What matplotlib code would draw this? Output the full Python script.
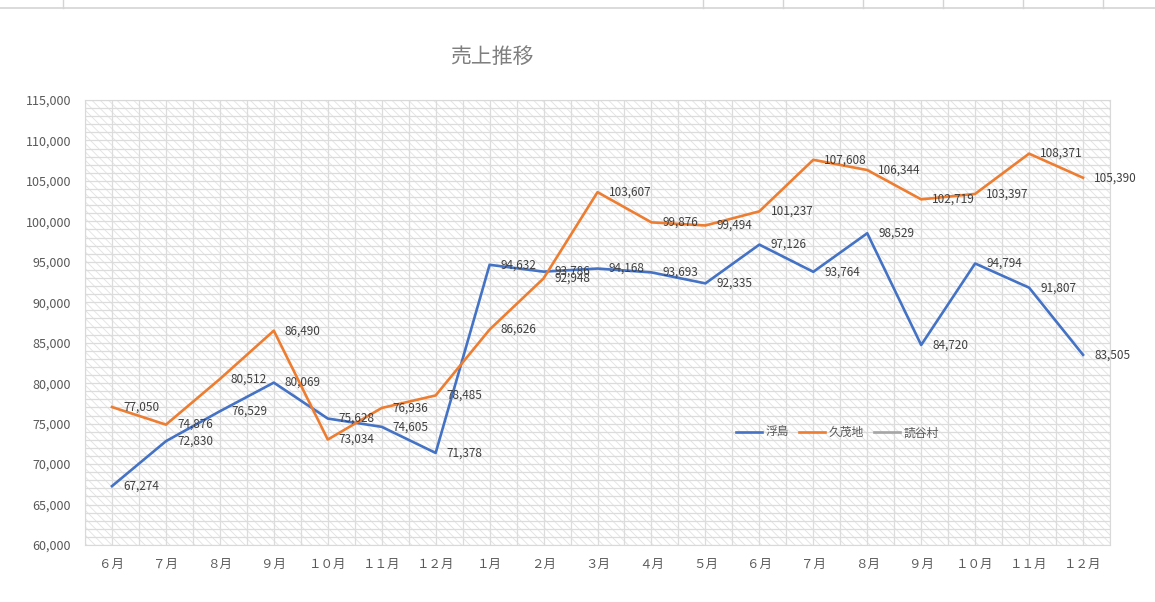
import matplotlib
matplotlib.use("Agg")
import matplotlib.pyplot as plt
from matplotlib.lines import Line2D
from matplotlib.patches import Rectangle
from matplotlib.ticker import FuncFormatter, MultipleLocator

plt.rcParams["font.family"] = ["Noto Sans CJK JP", "DejaVu Sans"]
plt.rcParams["hatch.linewidth"] = 0.6

# months Jun .. Dec of next year (full-width digits as in the sheet)
months = ["６月", "７月", "８月", "９月", "１０月", "１１月", "１２月",
          "１月", "２月", "３月", "４月", "５月", "６月", "７月", "８月",
          "９月", "１０月", "１１月", "１２月"]

ukishima = [67274, 72830, 76529, 80069, 75628, 74605, 71378, 94632, 93786, 94168,
            93693, 92335, 97126, 93764, 98529, 84720, 94794, 91807, 83505]
kumoji = [77050, 74876, 80512, 86490, 73034, 76936, 78485, 86626, 92948, 103607,
          99876, 99494, 101237, 107608, 106344, 102719, 103397, 108371, 105390]
series_names = ["浮島", "久茂地", "読谷村"]
series_colors = ["#4472C4", "#ED7D31", "#A5A5A5"]

fig = plt.figure(figsize=(11.55, 6.02), dpi=100)
ax = fig.add_axes([85 / 1155, 57 / 602, 1025 / 1155, 445 / 602])

# spreadsheet cell borders peeking in at the top
fig.add_artist(Line2D([0, 1], [1 - 7.5 / 602] * 2, color="#d4d4d4", lw=1.2))
for px in [63, 703, 783, 863, 943, 1023, 1103]:
    fig.add_artist(Line2D([px / 1155] * 2, [1 - 7.5 / 602, 1], color="#d4d4d4", lw=1))

# hatched plot-area fill
ax.patch.set_visible(False)
ax.add_patch(Rectangle((0, 0), 1, 1, transform=ax.transAxes, facecolor="white",
                       edgecolor="#e2e2e2", hatch="\\\\\\\\", lw=0, zorder=0))

x = list(range(len(months)))
for vals, name, col in [(ukishima, series_names[0], series_colors[0]),
                        (kumoji, series_names[1], series_colors[1])]:
    ax.plot(x, vals, color=col, lw=1.9, label=name, zorder=3)
    for xi, v in zip(x, vals):
        ax.annotate(f"{v:,}", (xi, v), xytext=(8, 0), textcoords="offset points",
                    ha="left", va="center", fontsize=8.5, color="#404040", zorder=4)
# third store has no data, legend only
ax.plot([], [], color=series_colors[2], lw=1.9, label=series_names[2])

ax.set_xlim(-0.5, len(months) - 0.5)
ax.set_ylim(60000, 115000)
ax.set_xticks(x)
ax.set_xticklabels(months)
ax.xaxis.set_minor_locator(MultipleLocator(0.5))
ax.yaxis.set_major_locator(MultipleLocator(5000))
ax.yaxis.set_minor_locator(MultipleLocator(1000))
ax.yaxis.set_major_formatter(FuncFormatter(lambda v, p: f"{int(v):,}"))
ax.set_axisbelow(True)
ax.grid(which="both", color="#dcdcdc", lw=0.9)
ax.tick_params(which="both", length=0)
ax.tick_params(axis="y", labelsize=9, colors="#595959", pad=10)
ax.tick_params(axis="x", labelsize=9, colors="#595959", pad=9)
for s in ax.spines.values():
    s.set_color("#d9d9d9")

fig.text(492 / 1155, 1 - 57 / 602, "売上推移", ha="center", va="center",
         fontsize=15, color="#7f7f7f")

leg = ax.legend(loc="center", bbox_to_anchor=(0.734, 0.252), ncol=3, frameon=False,
                fontsize=8.5, handlelength=2.2, columnspacing=0.9, handletextpad=0.25)
for t in leg.get_texts():
    t.set_color("#595959")

fig.savefig("out.png", dpi=100)
